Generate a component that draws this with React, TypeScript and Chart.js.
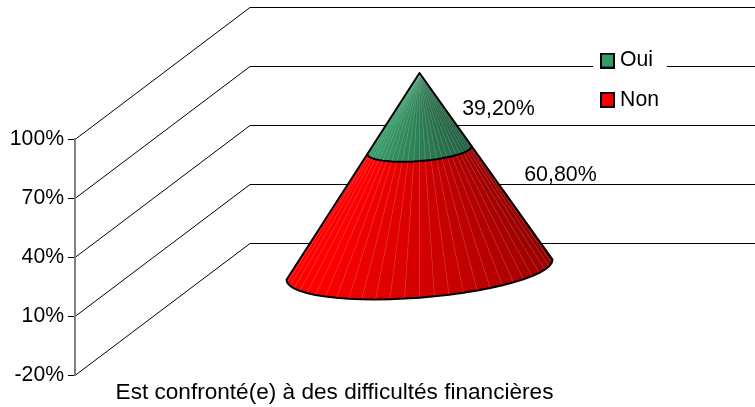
import React, { useEffect, useRef } from "react";
import { Chart, registerables } from "chart.js";

Chart.register(...registerables);

const categories = ["Est confronté(e) à des difficultés financières"];
const seriesNames = ["Non", "Oui"];
const nonValues = [60.8];
const ouiValues = [39.2];
const valueLabels = ["60,80%", "39,20%"];
const seriesColors = ["#ff0000", "#339966"];
const seriesRgb = [[255, 0, 0], [54, 152, 102]];

const FONT = "'Liberation Sans', Arial, sans-serif";
const FONT_SIZE = 21.4;
const AXIS_FONT_SIZE = 21.2;
const CATEGORY_FONT_SIZE = 22.6;
const DEPTH_X = 175;
const DEPTH_Y = 132;
const CONE_SHIFT = 85;
const RX = 133;
const RY = 28;
const TILT = 10;
const FACETS = 28;

function frustumPoints(cx: number, cy: number, k: number) {
  const pts: [number, number][] = [];
  for (let i = 0; i <= FACETS; i++) {
    const t = Math.PI - (Math.PI * i) / FACETS;
    pts.push([
      cx + k * RX * Math.cos(t),
      cy + k * (-TILT * Math.cos(t) + RY * Math.sin(t)),
    ]);
  }
  return pts;
}

function legendSwatch(color: string) {
  const c = document.createElement("canvas");
  c.width = 15;
  c.height = 16;
  const g = c.getContext("2d")!;
  g.fillStyle = color;
  g.fillRect(0, 0, 15, 16);
  g.strokeStyle = "#000";
  g.lineWidth = 2;
  g.strokeRect(1, 1, 13, 14);
  return c;
}

const conePlugin = {
  id: "cone3d",
  afterLayout(chart: any) {
    const lg = chart.legend;
    lg.left = 587.5;
    lg.right = 587.5 + 100;
    lg.top = 32;
    lg.bottom = 132;
  },
  beforeDraw(chart: any) {
    const { ctx, scales, chartArea, width } = chart;
    const y = scales.y;
    ctx.save();
    ctx.strokeStyle = "#000";
    ctx.lineWidth = 1;
    y.ticks.forEach((tick: any) => {
      const py = Math.round(y.getPixelForValue(tick.value)) + 0.5;
      ctx.beginPath();
      ctx.moveTo(chartArea.left, py);
      ctx.lineTo(chartArea.left + DEPTH_X, py - DEPTH_Y);
      ctx.lineTo(width, py - DEPTH_Y);
      ctx.stroke();
    });
    ctx.fillStyle = "#fff";
    ctx.fillRect(593, 45, 74, 60);
    ctx.restore();
  },
  beforeDatasetDraw() {
    return false;
  },
  afterDatasetsDraw(chart: any) {
    const { ctx, scales } = chart;
    const y = scales.y;
    const bar = chart.getDatasetMeta(0).data[0];
    const cx = bar.x + CONE_SHIFT;
    const centerY = (v: number) => y.getPixelForValue(v) - DEPTH_Y / 2;
    const kOf = (v: number) => (y.max - v) / y.max;
    const low = [0, nonValues[0]];
    const high = [nonValues[0], nonValues[0] + ouiValues[0]];
    ctx.save();
    low.forEach((v0, s) => {
      const v1 = high[s];
      const a = frustumPoints(cx, centerY(v0), kOf(v0));
      const b = frustumPoints(cx, centerY(v1), kOf(v1));
      const rgb = seriesRgb[s];
      for (let i = 0; i < FACETS; i++) {
        const u = (i + 0.5) / FACETS;
        const f = u < 0.2 ? 1 : 1 - (u - 0.2) * 0.56;
        const col = `rgb(${rgb.map((c) => Math.round(c * f)).join(",")})`;
        ctx.beginPath();
        ctx.moveTo(a[i][0], a[i][1]);
        ctx.lineTo(a[i + 1][0], a[i + 1][1]);
        ctx.lineTo(b[i + 1][0], b[i + 1][1]);
        ctx.lineTo(b[i][0], b[i][1]);
        ctx.closePath();
        ctx.fillStyle = col;
        ctx.strokeStyle = col;
        ctx.lineWidth = 0.6;
        ctx.fill();
        ctx.stroke();
      }
      ctx.strokeStyle = "rgba(255,255,255,0.18)";
      ctx.lineWidth = 0.7;
      for (let i = 1; i < FACETS; i++) {
        ctx.beginPath();
        ctx.moveTo(a[i][0], a[i][1]);
        ctx.lineTo(b[i][0], b[i][1]);
        ctx.stroke();
      }
    });
    const base = frustumPoints(cx, centerY(low[0]), kOf(low[0]));
    const mid = frustumPoints(cx, centerY(low[1]), kOf(low[1]));
    const apexY = centerY(high[1]);
    ctx.strokeStyle = "#000";
    ctx.lineWidth = 2;
    ctx.lineJoin = "round";
    ctx.beginPath();
    ctx.moveTo(cx, apexY);
    base.forEach((p) => ctx.lineTo(p[0], p[1]));
    ctx.closePath();
    ctx.stroke();
    ctx.beginPath();
    mid.forEach((p, i) => (i ? ctx.lineTo(p[0], p[1]) : ctx.moveTo(p[0], p[1])));
    ctx.stroke();

    ctx.fillStyle = "#000";
    ctx.font = `${FONT_SIZE}px ${FONT}`;
    ctx.textAlign = "center";
    ctx.textBaseline = "middle";
    ctx.fillText(valueLabels[1], cx + 79, centerY(high[1] - ouiValues[0] / 2) - 2);
    ctx.fillText(valueLabels[0], cx + 141, centerY(nonValues[0] / 2) - 35);
    ctx.restore();
  },
};

export default function App() {
  const ref = useRef<HTMLCanvasElement>(null);
  useEffect(() => {
    document.body.style.margin = "0";
    document.body.style.background = "#fff";
    const chart = new Chart(ref.current!, {
      type: "bar",
      plugins: [conePlugin],
      data: {
        labels: categories,
        datasets: [
          {
            label: seriesNames[0],
            data: nonValues,
            backgroundColor: seriesColors[0],
            borderColor: "#000",
            borderWidth: 2,
          },
          {
            label: seriesNames[1],
            data: ouiValues,
            backgroundColor: seriesColors[1],
            borderColor: "#000",
            borderWidth: 2,
          },
        ],
      },
      options: {
        responsive: false,
        animation: false,
        layout: { padding: { top: 139, right: 161, left: 0, bottom: 0 } },
        plugins: {
          tooltip: { enabled: false },
          title: { display: false },
          legend: {
            display: true,
            position: "chartArea",
            align: "start",
            reverse: true,
            labels: {
              color: "#000",
              usePointStyle: true,
              pointStyleWidth: 4,
              boxHeight: 16,
              padding: 18,
              font: { family: FONT, size: AXIS_FONT_SIZE },
              generateLabels: (chart: any) =>
                Chart.defaults.plugins.legend.labels
                  .generateLabels(chart)
                  .map((item: any, i: number) => ({
                    ...item,
                    pointStyle: legendSwatch(seriesColors[i]),
                  })),
            },
          },
        },
        scales: {
          x: {
            stacked: true,
            grid: { display: false, drawTicks: false },
            border: { display: false },
            afterFit: (s: any) => {
              s.height = 32;
            },
            ticks: {
              color: "#000",
              padding: 4,
              maxRotation: 0,
              autoSkip: false,
              font: { family: FONT, size: CATEGORY_FONT_SIZE },
            },
          },
          y: {
            stacked: true,
            min: -20,
            max: 100,
            afterFit: (s: any) => {
              s.width = 75;
            },
            border: { display: true, color: "#808080", width: 2 },
            grid: {
              drawOnChartArea: false,
              drawTicks: true,
              tickLength: 7,
              color: "#000",
            },
            ticks: {
              stepSize: 30,
              color: "#000",
              padding: 4,
              font: { family: FONT, size: AXIS_FONT_SIZE },
              callback: (v: any) => `${v}%`,
            },
          },
        },
      },
    } as any);
    return () => chart.destroy();
  }, []);
  return <canvas ref={ref} width={755} height={407} style={{ display: "block" }} />;
}
